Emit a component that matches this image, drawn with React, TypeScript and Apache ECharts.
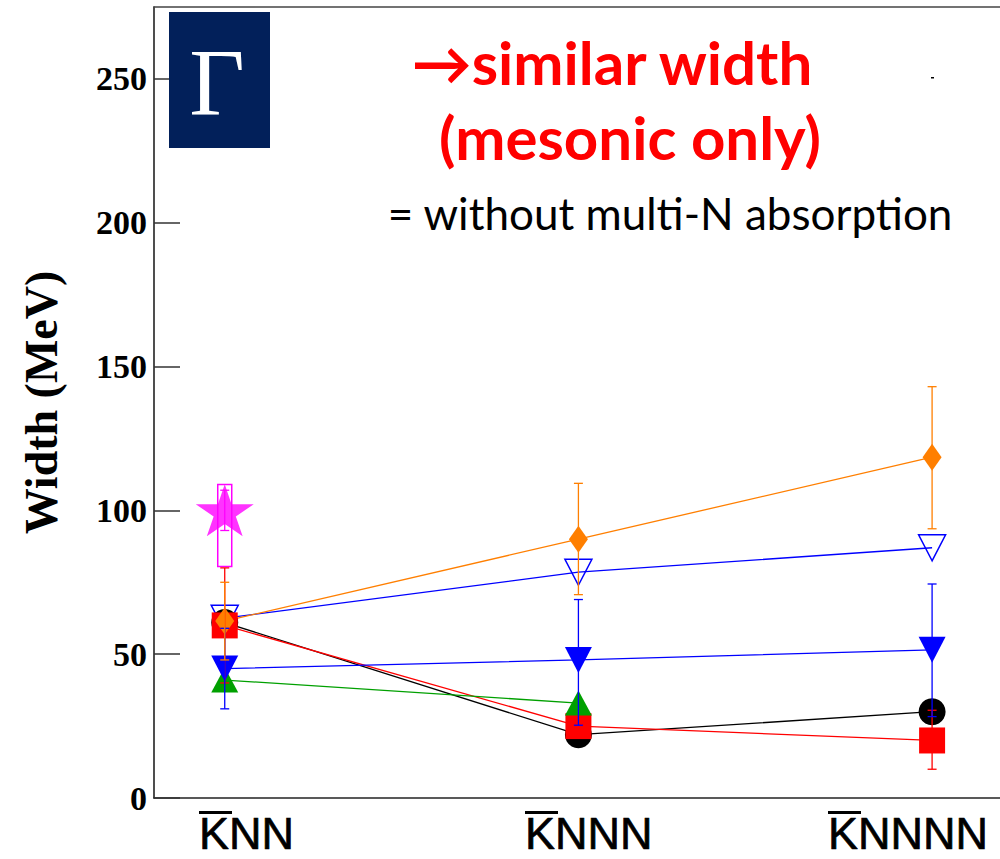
import React, { useEffect, useRef } from 'react';
import * as echarts from 'echarts';

// ---- data ----
const categories = ['KNN', 'KNNN', 'KNNNN'];
const categoryX = [1, 2, 3];
const yTicks = [0, 50, 100, 150, 200, 250];

const blackCircle = [61, 22, 30];
const redSquare = [60, 25, 20];
const greenTriangle = [41, 33, null];
const blueDown = [45, 48, 51.5];
const openDown = [62.5, 78.5, 87];
const orangeDiamond = [61.5, 90, 118.5];
const magentaStar = [100, null, null];

const redErrLow = [40, null, 10];
const redErrHigh = [80, null, 30.5];
const blueErrLow = [31, 25.3, 28.3];
const blueErrHigh = [59, 69, 74.4];
const orangeErrLow = [48, 70.7, 93.6];
const orangeErrHigh = [75, 109.4, 143];
const starErrLow = [93, null, null];
const starErrHigh = [107, null, null];
const starBoxLow = [80.5, null, null];
const starBoxHigh = [109, null, null];

const titleLines = ['\u2192similar width', '(mesonic only)'];
const noteLine = '= without multi-N absorption';

const STAR = 'path://M50,0 L61.2,34.5 L97.6,34.5 L68.2,55.9 L79.4,90.5 L50,69.1 L20.6,90.5 L31.8,55.9 L2.4,34.5 L38.8,34.5 Z';

function pts(vals: (number | null)[]) {
  return categoryX
    .map((x, i) => (vals[i] == null ? null : [x, vals[i]]))
    .filter((d) => d != null);
}

function errData(lo: (number | null)[], hi: (number | null)[]) {
  return categoryX
    .map((x, i) => (lo[i] == null ? null : [x, lo[i], hi[i]]))
    .filter((d) => d != null);
}

function errSeries(name: string, lo: any[], hi: any[], color: string) {
  return {
    type: 'custom',
    name,
    silent: true,
    z: 5,
    data: errData(lo, hi),
    encode: { x: 0, y: [1, 2] },
    renderItem: (params: any, api: any) => {
      const x = api.value(0);
      const a = api.coord([x, api.value(2)]);
      const b = api.coord([x, api.value(1)]);
      const w = 4.5;
      const st = { stroke: color, lineWidth: 1.3, fill: 'none' };
      return {
        type: 'group',
        children: [
          { type: 'line', shape: { x1: a[0], y1: a[1], x2: b[0], y2: b[1] }, style: st },
          { type: 'line', shape: { x1: a[0] - w, y1: a[1], x2: a[0] + w, y2: a[1] }, style: st },
          { type: 'line', shape: { x1: b[0] - w, y1: b[1], x2: b[0] + w, y2: b[1] }, style: st },
        ],
      };
    },
  };
}

function lineSeries(name: string, vals: any[], color: string, symbol: string, size: any, extra: any = {}) {
  return {
    type: 'line',
    name,
    data: pts(vals),
    symbol,
    symbolSize: size,
    showAllSymbol: true,
    lineStyle: { color, width: 1.3 },
    itemStyle: { color },
    emphasis: { disabled: true },
    z: 3,
    ...extra,
  };
}

export default function App() {
  const ref = useRef<HTMLDivElement>(null);
  useEffect(() => {
    if (!ref.current) return;
    const chart = echarts.init(ref.current, null, { renderer: 'svg' });
    const labelX = [199, 525, 828];
    const graphic: any[] = [
      { type: 'rect', shape: { x: 169, y: 12, width: 101, height: 136 }, style: { fill: '#02205a' }, z: 10 },
      {
        type: 'text', x: 217, y: 82, z: 11,
        style: { text: '\u0393', fill: '#ffffff', font: '96px "Liberation Serif", "Times New Roman", serif', textAlign: 'center', textVerticalAlign: 'middle' },
      },
      {
        type: 'text', x: 612, y: 62, z: 11,
        style: { text: titleLines[0], fill: '#ff0000', font: 'bold 60px Lato, "Open Sans", sans-serif', textAlign: 'center', textVerticalAlign: 'middle' },
      },
      {
        type: 'text', x: 630, y: 137, z: 11,
        style: { text: titleLines[1], fill: '#ff0000', font: 'bold 60px Lato, "Open Sans", sans-serif', textAlign: 'center', textVerticalAlign: 'middle' },
      },
      {
        type: 'text', x: 670, y: 213, z: 11,
        style: { text: noteLine, fill: '#000000', font: '44px Lato, "Open Sans", sans-serif', textAlign: 'center', textVerticalAlign: 'middle' },
      },
      { type: 'rect', shape: { x: 931, y: 77, width: 3, height: 1.5 }, style: { fill: '#000' }, z: 11 },
    ];
    categories.forEach((c, i) => {
      graphic.push({
        type: 'text', x: labelX[i], y: 833, z: 11,
        style: { text: c, fill: '#000', font: '45px "Liberation Sans", Arial, sans-serif', lineHeight: 36, textAlign: 'left', textVerticalAlign: 'middle', stroke: '#000', lineWidth: 0.7 },
      });
      graphic.push({ type: 'rect', shape: { x: labelX[i], y: 811, width: 33, height: 3 }, style: { fill: '#000' }, z: 11 });
    });

    chart.setOption({
      animation: false,
      backgroundColor: '#ffffff',
      grid: { left: 154, right: 0, top: 7, bottom: 61, containLabel: false, outerBoundsMode: 'none' },
      xAxis: [
        {
          type: 'value', min: 0.8, max: 3.192, position: 'bottom',
          axisLine: { show: true, onZero: false, lineStyle: { color: '#222', width: 1.6 } },
          axisTick: { show: false }, axisLabel: { show: false }, splitLine: { show: false },
        },
        {
          type: 'value', min: 0.8, max: 3.192, position: 'top',
          axisLine: { show: true, onZero: false, lineStyle: { color: '#444', width: 1.6 } },
          axisTick: { show: false }, axisLabel: { show: false }, splitLine: { show: false },
        },
      ],
      yAxis: {
        type: 'value', min: 0, max: 275, interval: 50,
        name: 'Width (MeV)', nameLocation: 'middle', nameRotate: 90, nameGap: 90,
        nameTextStyle: { fontFamily: '"Liberation Serif", "Times New Roman", serif', fontWeight: 'bold', fontSize: 46, color: '#000' },
        axisLine: { show: true, lineStyle: { color: '#222', width: 1.6 } },
        axisTick: { show: true, inside: true, length: 26, customValues: yTicks, lineStyle: { color: '#333', width: 1.5 } },
        axisLabel: {
          customValues: yTicks, margin: 7, color: '#000',
          fontFamily: '"Liberation Serif", "Times New Roman", serif', fontWeight: 'bold', fontSize: 34,
        },
        splitLine: { show: false },
      },
      graphic,
      series: [
        {
          type: 'custom', name: 'box', silent: true, z: 2,
          data: errData(starBoxLow, starBoxHigh), encode: { x: 0, y: [1, 2] },
          renderItem: (params: any, api: any) => {
            const x = api.value(0);
            const a = api.coord([x, api.value(2)]);
            const b = api.coord([x, api.value(1)]);
            return { type: 'rect', shape: { x: a[0] - 7, y: a[1], width: 14, height: b[1] - a[1] }, style: { stroke: '#ff00ff', lineWidth: 1.5, fill: 'none' } };
          },
        },
        lineSeries('open', openDown, '#0000ff', 'triangle', [27, 26], {
          symbolRotate: 180,
          itemStyle: { color: 'rgba(0,0,0,0)', borderColor: '#0000ff', borderWidth: 1.5 },
        }),
        lineSeries('black', blackCircle, '#000000', 'circle', 27),
        lineSeries('red', redSquare, '#ff0000', 'rect', 26),
        lineSeries('green', greenTriangle, '#00a000', 'triangle', [27, 25]),
        lineSeries('blue', blueDown, '#0000ff', 'triangle', [27, 26], { symbolRotate: 180 }),
        lineSeries('orange', orangeDiamond, '#ff7f00', 'diamond', [19, 27]),
        {
          type: 'scatter', name: 'star', data: pts(magentaStar), symbol: STAR, symbolSize: [58, 52],
          itemStyle: { color: '#ff00ff' }, z: 4, silent: true,
        },
        errSeries('starErr', starErrLow, starErrHigh, '#ff00ff'),
        errSeries('redErr', redErrLow, redErrHigh, '#ff0000'),
        errSeries('blueErr', blueErrLow, blueErrHigh, '#0000ff'),
        errSeries('orangeErr', orangeErrLow, orangeErrHigh, '#ff7f00'),
      ],
    });
    return () => chart.dispose();
  }, []);
  return <div ref={ref} style={{ position: 'absolute', left: 0, top: 0, width: 1000, height: 859 }} />;
}
